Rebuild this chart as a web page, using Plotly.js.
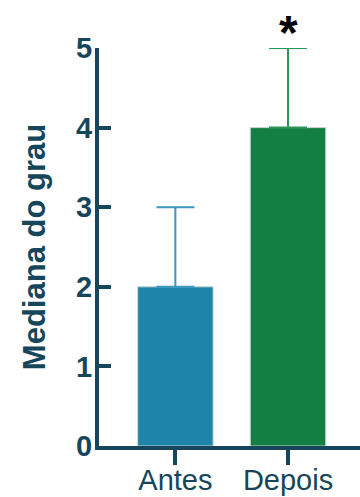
<!DOCTYPE html>
<html>
<head>
<meta charset="utf-8">
<script src="https://cdn.plot.ly/plotly-3.0.1.min.js"></script>
<style>
  html, body { margin: 0; padding: 0; background: #ffffff; }
  #chart { width: 360px; height: 497px; }
</style>
</head>
<body>
<div id="chart"></div>
<script>
// Median degree before and after, with upper error bars
const groups = ['Antes', 'Depois'];
const medians = [2, 4];
const upperError = [1, 1];
const barColors = ['#1f84aa', '#137f42'];
const errorColors = ['#3a98c0', '#2a9555'];
const yTicks = [0, 1, 2, 3, 4, 5];
const significance = '*';

const axisColor = '#16465a';
const font = 'Liberation Sans, Arial, Helvetica, sans-serif';

// one trace per group so each error bar gets its own colour
const traces = groups.map((g, i) => ({
  type: 'bar',
  x: [g],
  y: [medians[i]],
  width: 0.67,
  marker: { color: barColors[i], line: { color: '#c9d6d6', width: 1 } },
  error_y: {
    type: 'data',
    symmetric: false,
    array: [upperError[i]],
    arrayminus: [0],
    color: errorColors[i],
    thickness: 2,
    width: 19
  },
  hoverinfo: 'skip'
}));

const layout = {
  width: 360,
  height: 497,
  margin: { l: 99, r: 0, t: 48, b: 51 },
  paper_bgcolor: '#ffffff',
  plot_bgcolor: '#ffffff',
  showlegend: false,
  barmode: 'overlay',
  xaxis: {
    type: 'category',
    range: [-0.678, 1.639],
    showline: true,
    linecolor: axisColor,
    linewidth: 4,
    ticks: 'outside',
    ticklen: 15,
    tickwidth: 4,
    tickcolor: axisColor,
    ticklabelstandoff: -10,
    showgrid: false,
    zeroline: false,
    tickfont: { family: font, size: 29, color: axisColor }
  },
  yaxis: {
    range: [0, 5],
    tickvals: yTicks,
    ticktext: yTicks.map(String),
    showline: true,
    linecolor: axisColor,
    linewidth: 4,
    ticks: 'inside',
    ticklen: 12,
    tickwidth: 4,
    tickcolor: axisColor,
    ticklabelstandoff: -3,
    showgrid: false,
    zeroline: false,
    tickfont: { family: font, size: 29, color: axisColor, weight: 'bold' },
    title: {
      text: '<b>Mediana do grau</b>',
      font: { family: font, size: 31, color: axisColor },
      standoff: 22
    }
  },
  annotations: [{
    x: 'Depois',
    y: 5,
    xref: 'x',
    yref: 'y',
    text: '<b>' + significance + '</b>',
    showarrow: false,
    yanchor: 'bottom',
    yshift: -13,
    font: { family: font, size: 48, color: '#000000' }
  }]
};

Plotly.newPlot('chart', traces, layout, { displayModeBar: false, staticPlot: true });
</script>
</body>
</html>
